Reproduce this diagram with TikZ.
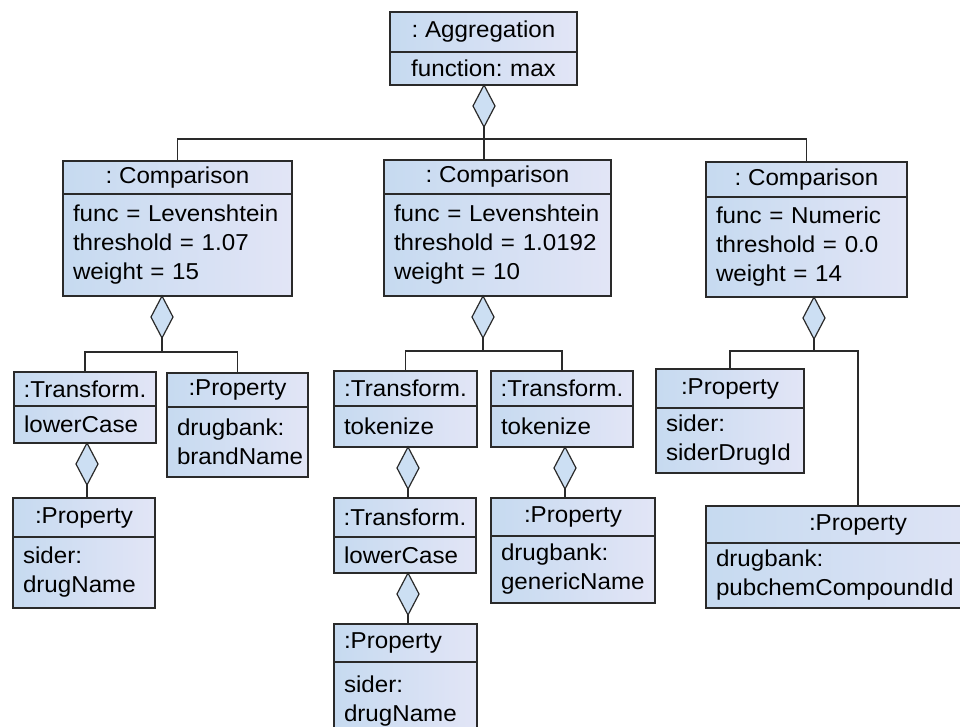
\documentclass[tikz,border=0pt]{standalone}
\usepackage{fontspec}
\setmainfont{Liberation Sans}[FakeStretch=1.05]
\usetikzlibrary{shapes.geometric}

\frenchspacing
\hyphenpenalty=10000
\exhyphenpenalty=10000

\definecolor{boxleft}{HTML}{C6DAF0}
\definecolor{boxright}{HTML}{E2E5F6}
\definecolor{diafill}{HTML}{CCDFF3}
\definecolor{umlline}{HTML}{2A2A2A}

\tikzset{
  umlhead/.style={draw=umlline, line width=1.3pt, left color=boxleft, right color=boxright,
    anchor=north west, inner xsep=4pt, inner ysep=0pt, outer sep=0pt,
    font=\fontsize{23}{29}\selectfont},
  umlbody/.style={umlhead, inner xsep=10pt, align=left},
  aggdiamond/.style={diamond, draw=umlline, line width=1.2pt, fill=diafill, inner sep=0pt,
    outer sep=0pt, minimum width=22pt, minimum height=42pt, anchor=north},
  link/.style={draw=umlline, line width=1.1pt}
}

\begin{document}
\begin{tikzpicture}[x=1pt, y=-1pt]
  \useasboundingbox (0,0) rectangle (960,726);

  % aggregation
  \node[umlhead, minimum width=187pt, minimum height=40pt] (agg) at (390,12) {: Aggregation};
  \node[umlbody, text width=167pt, align=center, minimum height=33pt] (aggb) at (agg.south west) {function: max};

  % comparisons
  \node[umlhead, minimum width=229pt, minimum height=33pt] (cmpA) at (63,161) {: Comparison};
  \node[umlbody, text width=209pt, minimum height=102pt] (cmpAb) at (cmpA.south west) {func = Levenshtein\\threshold = 1.07\\weight = 15};
  \node[umlhead, minimum width=227pt, minimum height=34pt] (cmpB) at (384,160) {: Comparison};
  \node[umlbody, text width=207pt, minimum height=102pt] (cmpBb) at (cmpB.south west) {func = Levenshtein\\threshold = 1.0192\\weight = 10};
  \node[umlhead, minimum width=201pt, minimum height=35pt] (cmpC) at (706,162) {: Comparison};
  \node[umlbody, text width=181pt, minimum height=100pt] (cmpCb) at (cmpC.south west) {func = Numeric\\threshold = 0.0\\weight = 14};

  % left branch
  \node[umlhead, minimum width=142pt, minimum height=34pt] (tA) at (14,372) {:Transform.};
  \node[umlbody, text width=122pt, minimum height=37pt] (tAb) at (tA.south west) {lowerCase};
  \node[umlhead, minimum width=141pt, minimum height=34pt] (pA) at (167,373) {:Property};
  \node[umlbody, text width=121pt, minimum height=70pt] (pAb) at (pA.south west) {drugbank:\\brandName};
  \node[umlhead, minimum width=142pt, minimum height=39pt] (pA2) at (13,498) {:Property};
  \node[umlbody, text width=122pt, minimum height=71pt] (pA2b) at (pA2.south west) {sider:\\drugName};

  % middle branch
  \node[umlhead, minimum width=143pt, minimum height=35pt] (tB1) at (334,371) {:Transform.};
  \node[umlbody, text width=123pt, minimum height=41pt] (tB1b) at (tB1.south west) {tokenize};
  \node[umlhead, minimum width=142pt, minimum height=35pt] (tB2) at (491,371) {:Transform.};
  \node[umlbody, text width=122pt, minimum height=41pt] (tB2b) at (tB2.south west) {tokenize};
  \node[umlhead, minimum width=142pt, minimum height=39pt] (tB3) at (334,498) {:Transform.};
  \node[umlbody, text width=122pt, minimum height=36pt] (tB3b) at (tB3.south west) {lowerCase};
  \node[umlhead, minimum width=164pt, minimum height=38pt] (pB2) at (491,498) {:Property};
  \node[umlbody, text width=144pt, minimum height=67pt] (pB2b) at (pB2.south west) {drugbank:\\genericName};
  \node[umlbody, text width=123pt, minimum height=38pt] (pB3) at (334,624) {:Property};
  \node[umlbody, text width=123pt, minimum height=78pt] (pB3b) at (pB3.south west) {sider:\\drugName};

  % right branch
  \node[umlhead, minimum width=148pt, minimum height=39pt] (pC1) at (656,369) {:Property};
  \node[umlbody, text width=128pt, minimum height=65pt] (pC1b) at (pC1.south west) {sider:\\siderDrugId};
  \node[umlhead, minimum width=304pt, minimum height=37pt] (pC2) at (706,506) {:Property};
  \node[umlbody, text width=284pt, minimum height=65pt] (pC2b) at (pC2.south west) {drugbank:\\pubchemCompoundId};

  % diamonds and links
  \node[aggdiamond] (dAgg) at (484,85) {};
  \coordinate (busTop) at (484,139);
  \draw[link] (dAgg.south) -- (dAgg.south |- cmpB.north);
  \draw[link] (cmpA.north) |- (busTop) -| (cmpC.north);

  \node[aggdiamond] (dA) at (162,296) {};
  \coordinate (busA) at (162,352);
  \draw[link] (dA.south) -- (busA);
  \draw[link] (tA.north) |- (busA) -| (pA.north);

  \node[aggdiamond] (dB) at (483,296) {};
  \coordinate (busB) at (483,351);
  \draw[link] (dB.south) -- (busB);
  \draw[link] (tB1.north) |- (busB) -| (tB2.north);

  \node[aggdiamond] (dC) at (814,297) {};
  \coordinate (busC) at (814,351);
  \draw[link] (dC.south) -- (busC);
  \draw[link] (pC1.north) |- (busC) -| (pC2.north);

  \node[aggdiamond] (dTA) at (87,443) {};
  \draw[link] (dTA.south) -- (dTA.south |- pA2.north);
  \node[aggdiamond] (dTB1) at (408,447) {};
  \draw[link] (dTB1.south) -- (dTB1.south |- tB3.north);
  \node[aggdiamond] (dTB2) at (565,447) {};
  \draw[link] (dTB2.south) -- (dTB2.south |- pB2.north);
  \node[aggdiamond] (dTB3) at (408,573) {};
  \draw[link] (dTB3.south) -- (dTB3.south |- pB3.north);
\end{tikzpicture}
\end{document}
